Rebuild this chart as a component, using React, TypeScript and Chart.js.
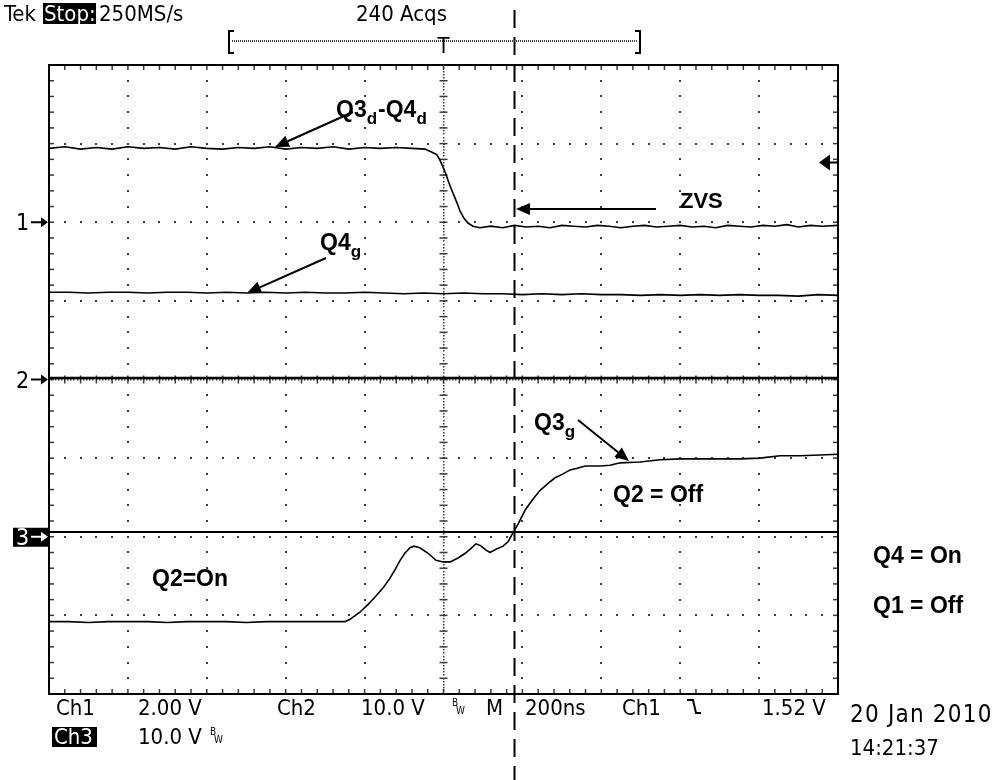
import React, { useEffect, useRef } from "react";
import { Chart, registerables } from "chart.js";
Chart.register(...registerables);

// ---- data (time in ns relative to trigger, value in screen divisions) ----
const X_MIN = -1000;
const X_MAX = 1000;
const Y_MIN = -4;
const Y_MAX = 4;

// Ch1 : Q3d-Q4d
const CH1_T = [-1000, -960, -920, -880, -840, -800, -760, -720, -680, -640, -600, -560, -520, -480, -440, -400, -360, -320, -280, -240, -200, -160, -120, -80,
  -47, -29, -17, -9, 4, 14, 24, 34, 42, 52, 62, 75, 92,
  120, 150, 180, 210, 240, 270, 300, 330, 360, 390, 420, 450, 480, 510, 540, 570, 600, 630, 660, 690, 720, 750, 780, 810, 840, 870, 900, 930, 960, 1000];
const CH1_V = [2.94, 2.96, 2.93, 2.95, 2.93, 2.96, 2.94, 2.95, 2.93, 2.96, 2.94, 2.93, 2.95, 2.94, 2.96, 2.93, 2.95, 2.94, 2.96, 2.93, 2.95, 2.94, 2.95, 2.94,
  2.93, 2.89, 2.86, 2.79, 2.64, 2.50, 2.37, 2.25, 2.14, 2.05, 1.99, 1.95, 1.93,
  1.95, 1.93, 1.96, 1.94, 1.95, 1.93, 1.96, 1.95, 1.94, 1.96, 1.95, 1.93, 1.95, 1.96, 1.94, 1.95, 1.96, 1.94, 1.95, 1.93, 1.96, 1.95, 1.94, 1.96, 1.95, 1.97, 1.94, 1.96, 1.95, 1.96];

// Q4g
const Q4G_T = [-1000, -950, -900, -850, -800, -750, -700, -650, -600, -550, -500, -450, -400, -350, -300, -250, -200, -150, -100, -50, 0,
  50, 100, 150, 200, 250, 300, 350, 400, 450, 500, 550, 600, 650, 700, 750, 800, 850, 900, 950, 1000];
const Q4G_V = [1.11, 1.11, 1.10, 1.11, 1.11, 1.10, 1.11, 1.11, 1.10, 1.11, 1.10, 1.11, 1.10, 1.11, 1.10, 1.10, 1.11, 1.10, 1.09, 1.10, 1.09,
  1.10, 1.09, 1.09, 1.08, 1.09, 1.08, 1.09, 1.08, 1.08, 1.07, 1.08, 1.07, 1.08, 1.07, 1.08, 1.07, 1.07, 1.06, 1.08, 1.07];

// Ch2 (flat)
const CH2_T = [-1000, 1000];
const CH2_V = [0.02, 0.02];

// Ch3 reference line
const CH3REF_T = [-1000, 1000];
const CH3REF_V = [-1.94, -1.94];

// Ch3 : Q3g
const CH3_T = [-1000, -950, -900, -850, -800, -750, -700, -650, -600, -550, -500, -450, -400, -350, -300, -250,
  -237, -212, -191, -174, -153, -136, -123, -110, -98, -85, -75, -60, -39, -19, -1, 17, 37, 55, 67, 82,
  93, 108, 118, 133, 151, 164, 176, 189, 207, 227, 245, 265, 283, 303, 321, 339, 359, 397, 422, 448,
  498, 549, 600, 650, 701, 752, 802, 853, 904, 954, 1000];
const CH3_V = [-3.08, -3.08, -3.09, -3.08, -3.08, -3.08, -3.09, -3.08, -3.08, -3.08, -3.09, -3.08, -3.08, -3.08, -3.08, -3.08,
  -3.05, -2.96, -2.86, -2.77, -2.65, -2.53, -2.42, -2.30, -2.21, -2.14, -2.12, -2.14, -2.21, -2.30, -2.32, -2.32, -2.27, -2.21, -2.16, -2.09,
  -2.11, -2.17, -2.20, -2.16, -2.12, -2.06, -1.95, -1.84, -1.66, -1.52, -1.41, -1.32, -1.25, -1.20, -1.15, -1.13, -1.10, -1.10, -1.09, -1.06,
  -1.05, -1.02, -1.01, -1.01, -1.01, -1.01, -1.00, -0.97, -0.97, -0.96, -0.95];

const CURSOR_T = 180;
const TRIG_LEVEL = 2.76;
const CH_MARKERS = [2, 0, -2];

const TEK = "'DejaVu Sans Condensed', 'DejaVu Sans', sans-serif";
const ANN = "'Liberation Sans', Arial, sans-serif";

const zip = (t: number[], v: number[]) => t.map((x, i) => ({ x, y: v[i] }));

function arrow(ctx: CanvasRenderingContext2D, x1: number, y1: number, x2: number, y2: number) {
  const a = Math.atan2(y2 - y1, x2 - x1);
  const L = 14, W = 6;
  const bx = x2 - L * Math.cos(a), by = y2 - L * Math.sin(a);
  ctx.strokeStyle = "#000";
  ctx.lineWidth = 2;
  ctx.setLineDash([]);
  ctx.beginPath();
  ctx.moveTo(x1, y1);
  ctx.lineTo(bx, by);
  ctx.stroke();
  ctx.fillStyle = "#000";
  ctx.beginPath();
  ctx.moveTo(x2, y2);
  ctx.lineTo(bx + W * Math.sin(a), by - W * Math.cos(a));
  ctx.lineTo(bx - W * Math.sin(a), by + W * Math.cos(a));
  ctx.closePath();
  ctx.fill();
}

function rich(ctx: CanvasRenderingContext2D, parts: [string, boolean][], x: number, y: number, size: number) {
  let cx = x;
  for (const [s, sub] of parts) {
    ctx.font = sub ? `bold ${Math.round(size * 0.72)}px ${ANN}` : `bold ${size}px ${ANN}`;
    ctx.fillText(s, cx, sub ? y + size * 0.3 : y);
    cx += ctx.measureText(s).width + (sub ? 1 : 0);
  }
}

function tekText(ctx: CanvasRenderingContext2D, s: string, x: number, y: number, size: number, spacing = 0) {
  ctx.font = `${size}px ${TEK}`;
  (ctx as any).letterSpacing = `${spacing}px`;
  ctx.fillText(s, x, y);
  (ctx as any).letterSpacing = "0px";
}

const scopePlugin = {
  id: "scope",
  beforeDraw(chart: any) {
    const ctx = chart.ctx as CanvasRenderingContext2D;
    ctx.save();
    ctx.fillStyle = "#fff";
    ctx.fillRect(0, 0, chart.width, chart.height);
    ctx.restore();
  },
  beforeDatasetsDraw(chart: any) {
    const ctx = chart.ctx as CanvasRenderingContext2D;
    const xs = chart.scales.x, ys = chart.scales.y;
    const X = (v: number) => xs.getPixelForValue(v);
    const Y = (v: number) => ys.getPixelForValue(v);
    const { left, right, top, bottom } = chart.chartArea;
    ctx.save();
    ctx.fillStyle = "#3a3a3a";
    const dot = (x: number, y: number, w = 2, h = 2) => ctx.fillRect(Math.round(x - w / 2), Math.round(y - h / 2), w, h);
    for (let i = 1; i < 10; i++) {
      if (i === 5) continue;
      const px = X(X_MIN + 200 * i);
      for (let k = 1; k < 40; k++) dot(px, Y(Y_MIN + 0.2 * k));
    }
    for (let j = 1; j < 8; j++) {
      if (j === 4) continue;
      const py = Y(Y_MIN + j);
      for (let k = 1; k < 50; k++) dot(X(X_MIN + 40 * k), py);
    }
    const cx = X(0), cy = Y(0);
    for (let k = 0; k <= 200; k++) dot(cx, Y(Y_MIN + 0.04 * k), 1.5, 1.5);
    for (let k = 1; k < 40; k++) { const py = Y(Y_MIN + 0.2 * k); ctx.fillRect(cx - 4, py - 0.75, 8, 1.5); }
    for (let k = 0; k <= 250; k++) dot(X(X_MIN + 8 * k), cy, 1.5, 1.5);
    for (let k = 1; k < 50; k++) { const px = X(X_MIN + 40 * k); ctx.fillRect(px - 0.75, cy - 4, 1.5, 8); }
    for (let k = 1; k < 50; k++) {
      const px = X(X_MIN + 40 * k);
      ctx.fillRect(px - 0.75, top, 1.5, 5);
      ctx.fillRect(px - 0.75, bottom - 5, 1.5, 5);
    }
    for (let k = 1; k < 40; k++) {
      const py = Y(Y_MIN + 0.2 * k);
      ctx.fillRect(left, py - 0.75, 5, 1.5);
      ctx.fillRect(right - 5, py - 0.75, 5, 1.5);
    }
    ctx.restore();
  },
  afterDatasetsDraw(chart: any) {
    const ctx = chart.ctx as CanvasRenderingContext2D;
    const xs = chart.scales.x, ys = chart.scales.y;
    const X = (v: number) => xs.getPixelForValue(v);
    const Y = (v: number) => ys.getPixelForValue(v);
    const { left, right, top, bottom } = chart.chartArea;
    ctx.save();
    ctx.strokeStyle = "#000";
    ctx.fillStyle = "#000";
    ctx.lineWidth = 2;
    ctx.strokeRect(left, top, right - left, bottom - top);

    // cursor dashed line
    const ux = X(CURSOR_T);
    ctx.setLineDash([18, 9]);
    ctx.beginPath();
    ctx.moveTo(ux, 10);
    ctx.lineTo(ux, 780);
    ctx.stroke();
    ctx.setLineDash([]);

    // trigger level marker (right)
    const ty = Y(TRIG_LEVEL);
    ctx.beginPath();
    ctx.moveTo(right - 19, ty);
    ctx.lineTo(right - 8, ty - 8);
    ctx.lineTo(right - 8, ty + 8);
    ctx.closePath();
    ctx.fill();
    ctx.beginPath();
    ctx.moveTo(right - 9, ty);
    ctx.lineTo(right, ty);
    ctx.stroke();

    // channel markers (left)
    CH_MARKERS.forEach((v, i) => {
      const py = Y(v);
      const inv = i === 2;
      if (inv) {
        ctx.fillStyle = "#000";
        ctx.fillRect(13, py - 9, 35, 19);
      }
      const c = inv ? "#fff" : "#000";
      ctx.fillStyle = c;
      ctx.strokeStyle = c;
      tekText(ctx, String(i + 1), 16, py + 8, 23);
      ctx.lineWidth = 2;
      ctx.beginPath();
      ctx.moveTo(31, py);
      ctx.lineTo(43, py);
      ctx.stroke();
      ctx.beginPath();
      ctx.moveTo(48, py);
      ctx.lineTo(41, py - 5);
      ctx.lineTo(41, py + 5);
      ctx.closePath();
      ctx.fill();
    });
    ctx.strokeStyle = "#000";
    ctx.fillStyle = "#000";

    // header
    tekText(ctx, "Tek", 4, 21, 22);
    ctx.fillRect(43, 3, 53, 21);
    ctx.fillStyle = "#fff";
    tekText(ctx, "Stop:", 44, 21, 22);
    ctx.fillStyle = "#000";
    tekText(ctx, "250MS/s", 99, 21, 22);
    tekText(ctx, "240 Acqs", 356, 21, 22);
    // record bracket
    ctx.lineWidth = 2;
    ctx.beginPath();
    ctx.moveTo(234, 31); ctx.lineTo(229, 31); ctx.lineTo(229, 53); ctx.lineTo(234, 53);
    ctx.moveTo(635, 31); ctx.lineTo(640, 31); ctx.lineTo(640, 53); ctx.lineTo(635, 53);
    ctx.stroke();
    ctx.fillStyle = "#444";
    for (let x = 232; x < 638; x += 2) ctx.fillRect(x, 40, 1, 2);
    ctx.fillStyle = "#000";
    ctx.textAlign = "center";
    tekText(ctx, "T", X(0), 53, 22);
    ctx.textAlign = "left";

    // footer
    const F = 22;
    tekText(ctx, "Ch1", 56, 715, F);
    tekText(ctx, "2.00 V", 138, 715, F);
    tekText(ctx, "Ch2", 277, 715, F);
    tekText(ctx, "10.0 V", 361, 715, F);
    tekText(ctx, "M", 486, 715, F);
    tekText(ctx, "200ns", 525, 715, F);
    tekText(ctx, "Ch1", 622, 715, F);
    tekText(ctx, "1.52 V", 762, 715, F);
    tekText(ctx, "20 Jan 2010", 850, 722, 24, 1.2);
    tekText(ctx, "14:21:37", 850, 755, 22);
    ctx.fillRect(52, 727, 45, 20);
    ctx.fillStyle = "#fff";
    tekText(ctx, "Ch3", 54, 744, F);
    ctx.fillStyle = "#000";
    tekText(ctx, "10.0 V", 138, 744, F);
    // BW marks
    tekText(ctx, "B", 452, 706, 10);
    tekText(ctx, "W", 456, 714, 10);
    tekText(ctx, "B", 210, 735, 10);
    tekText(ctx, "W", 214, 743, 10);
    // falling slope symbol
    ctx.lineWidth = 2;
    ctx.beginPath();
    ctx.moveTo(687, 700); ctx.lineTo(693, 700); ctx.lineTo(696, 713); ctx.lineTo(701, 713);
    ctx.stroke();

    // annotations
    ctx.fillStyle = "#000";
    const S = 23;
    rich(ctx, [["Q3", false], ["d", true], ["-Q4", false], ["d", true]], 336, 117, S);
    arrow(ctx, 353, 112, 275, 147);
    rich(ctx, [["ZVS", false]], 680, 208, 22);
    arrow(ctx, 656, 209, 516, 209);
    rich(ctx, [["Q4", false], ["g", true]], 320, 250, S);
    arrow(ctx, 326, 258, 247, 293);
    rich(ctx, [["Q3", false], ["g", true]], 534, 430, S);
    arrow(ctx, 578, 420, 629, 461);
    rich(ctx, [["Q2 = Off", false]], 613, 502, S);
    rich(ctx, [["Q2=On", false]], 152, 586, S);
    rich(ctx, [["Q4 = On", false]], 873, 563, S);
    rich(ctx, [["Q1 = Off", false]], 873, 613, S);
    ctx.restore();
  },
};

export default function App() {
  const ref = useRef<HTMLCanvasElement>(null);
  useEffect(() => {
    const canvas = ref.current!;
    const line = (t: number[], v: number[], w = 1.6) => ({
      data: zip(t, v),
      borderColor: "#000",
      borderWidth: w,
      pointRadius: 0,
      tension: 0,
      fill: false,
    });
    const chart = new Chart(canvas, {
      type: "line",
      data: {
        datasets: [
          line(CH1_T, CH1_V),
          line(Q4G_T, Q4G_V),
          line(CH2_T, CH2_V, 2.5),
          line(CH3REF_T, CH3REF_V, 2),
          line(CH3_T, CH3_V),
        ] as any,
      },
      options: {
        responsive: false,
        animation: false,
        parsing: false,
        layout: { padding: { left: 49, top: 65, right: 162, bottom: 86 } },
        scales: {
          x: { type: "linear", min: X_MIN, max: X_MAX, display: false },
          y: { type: "linear", min: Y_MIN, max: Y_MAX, display: false },
        },
        plugins: { legend: { display: false }, tooltip: { enabled: false } },
      } as any,
      plugins: [scopePlugin as any],
    });
    return () => chart.destroy();
  }, []);
  return (
    <div style={{ position: "fixed", left: 0, top: 0, width: 1000, height: 780, background: "#fff" }}>
      <canvas ref={ref} width={1000} height={780} style={{ width: 1000, height: 780, display: "block" }} />
    </div>
  );
}
